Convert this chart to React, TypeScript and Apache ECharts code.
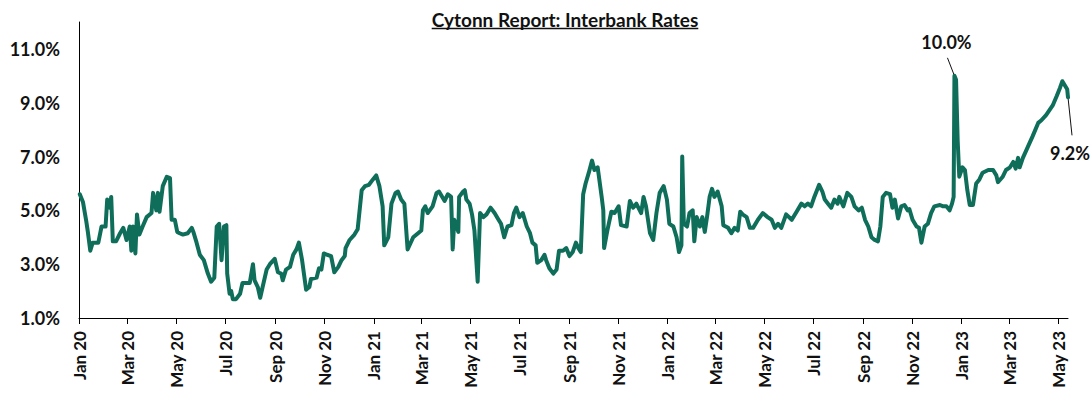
import React, { useEffect, useRef } from 'react';
import * as echarts from 'echarts';

const TITLE = 'Cytonn Report: Interbank Rates';
const AXIS_START = '2020-01-01';
const AXIS_END = '2023-05-13';
const MONTHS = ['Jan', 'Feb', 'Mar', 'Apr', 'May', 'Jun', 'Jul', 'Aug', 'Sep', 'Oct', 'Nov', 'Dec'];
const LINE_COLOR = '#0f6e5a';

const sampleDates = [
  '2020-01-02', '2020-01-06', '2020-01-10', '2020-01-12', '2020-01-15', '2020-01-18', '2020-01-25', '2020-01-29',
  '2020-02-03', '2020-02-05', '2020-02-08', '2020-02-10', '2020-02-12', '2020-02-16', '2020-02-21', '2020-02-25',
  '2020-02-29', '2020-03-04', '2020-03-06', '2020-03-08', '2020-03-11', '2020-03-13', '2020-03-16', '2020-03-20',
  '2020-03-25', '2020-03-31', '2020-04-02', '2020-04-06', '2020-04-08', '2020-04-10', '2020-04-14', '2020-04-19',
  '2020-04-23', '2020-04-25', '2020-04-29', '2020-05-02', '2020-05-05', '2020-05-09', '2020-05-15', '2020-05-20',
  '2020-05-22', '2020-05-26', '2020-05-30', '2020-06-04', '2020-06-09', '2020-06-13', '2020-06-17', '2020-06-20',
  '2020-06-23', '2020-06-26', '2020-06-29', '2020-07-02', '2020-07-03', '2020-07-06', '2020-07-08', '2020-07-10',
  '2020-07-14', '2020-07-19', '2020-07-22', '2020-07-27', '2020-07-31', '2020-08-04', '2020-08-06', '2020-08-10',
  '2020-08-13', '2020-08-16', '2020-08-21', '2020-08-25', '2020-08-31', '2020-09-04', '2020-09-08', '2020-09-10',
  '2020-09-14', '2020-09-19', '2020-09-23', '2020-09-27', '2020-09-30', '2020-10-04', '2020-10-09', '2020-10-13',
  '2020-10-15', '2020-10-22', '2020-10-25', '2020-10-28', '2020-10-31', '2020-11-04', '2020-11-09', '2020-11-13',
  '2020-11-18', '2020-11-22', '2020-11-26', '2020-11-27', '2020-12-02', '2020-12-08', '2020-12-12', '2020-12-17',
  '2020-12-21', '2020-12-26', '2020-12-31', '2021-01-04', '2021-01-08', '2021-01-12', '2021-01-14', '2021-01-19',
  '2021-01-23', '2021-01-28', '2021-01-31', '2021-02-04', '2021-02-08', '2021-02-12', '2021-02-19', '2021-02-25',
  '2021-03-01', '2021-03-03', '2021-03-06', '2021-03-09', '2021-03-15', '2021-03-20', '2021-03-23', '2021-03-28',
  '2021-03-30', '2021-04-03', '2021-04-07', '2021-04-09', '2021-04-11', '2021-04-16', '2021-04-17', '2021-04-22',
  '2021-04-24', '2021-04-26', '2021-04-30', '2021-05-03', '2021-05-06', '2021-05-10', '2021-05-13', '2021-05-17',
  '2021-05-21', '2021-05-26', '2021-05-31', '2021-06-04', '2021-06-08', '2021-06-12', '2021-06-16', '2021-06-21',
  '2021-06-24', '2021-06-27', '2021-07-01', '2021-07-05', '2021-07-10', '2021-07-14', '2021-07-17', '2021-07-21',
  '2021-07-23', '2021-07-28', '2021-08-01', '2021-08-03', '2021-08-07', '2021-08-12', '2021-08-16', '2021-08-19',
  '2021-08-24', '2021-08-28', '2021-09-01', '2021-09-05', '2021-09-09', '2021-09-12', '2021-09-15', '2021-09-18',
  '2021-09-21', '2021-09-25', '2021-09-29', '2021-10-02', '2021-10-06', '2021-10-11', '2021-10-13', '2021-10-14',
  '2021-10-18', '2021-10-23', '2021-10-27', '2021-11-01', '2021-11-04', '2021-11-11', '2021-11-15', '2021-11-19',
  '2021-11-23', '2021-11-29', '2021-12-02', '2021-12-05', '2021-12-10', '2021-12-14', '2021-12-18', '2021-12-22',
  '2021-12-27', '2021-12-31', '2022-01-03', '2022-01-08', '2022-01-12', '2022-01-15', '2022-01-18', '2022-01-19',
  '2022-01-21', '2022-01-25', '2022-01-28', '2022-02-01', '2022-02-03', '2022-02-06', '2022-02-10', '2022-02-13',
  '2022-02-16', '2022-02-19', '2022-02-22', '2022-02-25', '2022-02-28', '2022-03-04', '2022-03-09', '2022-03-11',
  '2022-03-17', '2022-03-21', '2022-03-25', '2022-03-29', '2022-04-01', '2022-04-04', '2022-04-09', '2022-04-13',
  '2022-04-17', '2022-04-23', '2022-04-29', '2022-05-05', '2022-05-10', '2022-05-14', '2022-05-18', '2022-05-22',
  '2022-05-28', '2022-06-04', '2022-06-10', '2022-06-16', '2022-06-20', '2022-06-24', '2022-06-28', '2022-07-02',
  '2022-07-08', '2022-07-12', '2022-07-15', '2022-07-19', '2022-07-23', '2022-07-27', '2022-07-31', '2022-08-02',
  '2022-08-07', '2022-08-12', '2022-08-17', '2022-08-21', '2022-08-26', '2022-08-30', '2022-09-03', '2022-09-07',
  '2022-09-11', '2022-09-15', '2022-09-19', '2022-09-22', '2022-09-25', '2022-09-29', '2022-10-04', '2022-10-07',
  '2022-10-10', '2022-10-14', '2022-10-18', '2022-10-22', '2022-10-26', '2022-10-28', '2022-11-01', '2022-11-06',
  '2022-11-09', '2022-11-12', '2022-11-16', '2022-11-20', '2022-11-24', '2022-11-28', '2022-12-05', '2022-12-09',
  '2022-12-13', '2022-12-17', '2022-12-20', '2022-12-22', '2022-12-23', '2022-12-25', '2022-12-27', '2022-12-29',
  '2023-01-02', '2023-01-05', '2023-01-08', '2023-01-11', '2023-01-15', '2023-01-19', '2023-01-23', '2023-01-27',
  '2023-02-03', '2023-02-09', '2023-02-13', '2023-02-15', '2023-02-21', '2023-02-25', '2023-03-02', '2023-03-06',
  '2023-03-09', '2023-03-12', '2023-03-14', '2023-03-18', '2023-03-24', '2023-03-30', '2023-04-06', '2023-04-10',
  '2023-04-16', '2023-04-24', '2023-04-29', '2023-05-03', '2023-05-06', '2023-05-09', '2023-05-12', '2023-05-13',
];

const rates = [
  5.6, 5.3, 4.6, 4.2, 3.5, 3.8, 3.8, 4.4,
  4.4, 5.4, 5.1, 5.5, 3.85, 3.85, 4.15, 4.35,
  3.9, 4.4, 3.5, 4.4, 3.4, 4.85, 4.1, 4.4,
  4.75, 4.9, 5.65, 5.0, 5.65, 4.95, 5.9, 6.25,
  6.2, 4.65, 4.65, 4.2, 4.15, 4.1, 4.15, 4.35,
  4.2, 3.8, 3.35, 3.15, 2.65, 2.35, 2.5, 4.4,
  4.5, 3.15, 4.4, 4.45, 2.65, 1.9, 2.0, 1.7,
  1.7, 1.9, 2.3, 2.3, 2.3, 3.0, 2.4, 2.15,
  1.75, 2.15, 2.8, 3.0, 3.2, 2.7, 2.65, 2.4,
  2.8, 2.9, 3.35, 3.55, 3.8, 3.15, 2.05, 2.15,
  2.45, 2.5, 2.85, 2.8, 3.4, 3.35, 3.3, 2.7,
  2.9, 3.15, 3.3, 3.6, 3.9, 4.1, 4.3, 5.75,
  5.9, 5.95, 6.15, 6.3, 5.9, 5.15, 3.7, 4.0,
  5.25, 5.65, 5.7, 5.4, 5.25, 3.55, 4.0, 4.15,
  4.25, 5.0, 5.15, 4.9, 5.15, 5.65, 5.7, 5.45,
  5.35, 5.6, 5.5, 3.55, 4.65, 4.2, 5.5, 5.7,
  5.75, 5.4, 5.25, 4.85, 4.25, 2.35, 4.9, 4.75,
  4.85, 5.1, 4.9, 4.7, 4.5, 4.0, 4.4, 4.45,
  4.9, 5.1, 4.75, 4.9, 4.4, 4.15, 3.8, 3.7,
  3.05, 3.15, 3.35, 3.15, 2.85, 2.65, 2.8, 3.5,
  3.5, 3.6, 3.3, 3.45, 3.8, 3.6, 3.45, 5.6,
  6.0, 6.4, 6.85, 6.5, 6.6, 5.5, 5.0, 3.6,
  4.25, 4.95, 4.9, 5.15, 4.45, 4.4, 5.35, 5.1,
  5.25, 4.9, 5.5, 5.15, 4.15, 3.9, 4.9, 5.65,
  5.9, 5.4, 4.5, 4.4, 4.0, 3.45, 3.7, 7.0,
  4.5, 4.4, 4.9, 5.0, 3.85, 4.75, 4.4, 4.75,
  4.2, 4.8, 5.5, 5.8, 5.5, 5.7, 5.15, 4.45,
  4.35, 4.15, 4.35, 4.25, 4.95, 4.85, 4.75, 4.35,
  4.35, 4.65, 4.9, 4.75, 4.65, 4.35, 4.5, 4.35,
  4.85, 4.65, 4.95, 5.25, 5.15, 5.25, 5.15, 5.5,
  5.95, 5.7, 5.4, 5.25, 5.1, 5.4, 5.25, 5.5,
  5.15, 5.65, 5.5, 5.15, 5.0, 5.1, 4.65, 4.4,
  4.0, 3.9, 3.85, 4.4, 5.5, 5.65, 5.6, 5.1,
  5.4, 4.7, 5.15, 5.2, 5.0, 5.05, 4.65, 4.4,
  4.35, 3.8, 4.4, 4.5, 4.9, 5.15, 5.2, 5.15,
  5.15, 5.0, 5.25, 5.5, 10.0, 9.85, 7.6, 6.25,
  6.6, 6.5, 5.75, 5.2, 5.2, 6.0, 6.15, 6.4,
  6.5, 6.5, 6.3, 6.05, 6.25, 6.5, 6.6, 6.8,
  6.55, 6.95, 6.6, 6.95, 7.35, 7.75, 8.25, 8.35,
  8.55, 8.9, 9.25, 9.55, 9.8, 9.65, 9.5, 9.2,
];

const annotations = [
  { date: '2022-12-23', text: '10.0%', dx: -8, dy: -34, lineDx: -7, lineDy: -18 },
  { date: '2023-05-13', text: '9.2%', dx: 2, dy: 56, lineDx: 4, lineDy: 38 },
];

function buildDays(start: string, end: string): string[] {
  const out: string[] = [];
  const d = new Date(start + 'T00:00:00Z');
  const e = new Date(end + 'T00:00:00Z');
  while (d.getTime() <= e.getTime()) {
    out.push(d.toISOString().slice(0, 10));
    d.setUTCDate(d.getUTCDate() + 1);
  }
  return out;
}

const FONT = 'Lato, "Open Sans", sans-serif';
const TEXT_COLOR = '#111';

export default function App() {
  const ref = useRef<HTMLDivElement>(null);
  useEffect(() => {
    document.body.style.margin = '0';
    if (!ref.current) return;
    const chart = echarts.init(ref.current, null, { renderer: 'svg' });
    const days = buildDays(AXIS_START, AXIS_END);
    const isLabelDay = (_i: number, v: string) => {
      const m = parseInt(v.slice(5, 7), 10);
      return v.slice(8, 10) === '01' && m % 2 === 1;
    };
    const option: any = {
      animation: false,
      backgroundColor: '#ffffff',
      grid: { left: 79, right: 24, top: 22, bottom: 76, containLabel: false },
      xAxis: {
        type: 'category',
        data: days,
        boundaryGap: false,
        axisLine: { show: true, lineStyle: { color: '#000', width: 1 } },
        axisTick: { show: true, interval: isLabelDay, length: 6, lineStyle: { color: '#000' } },
        axisLabel: {
          interval: isLabelDay,
          rotate: 90,
          margin: 13,
          fontFamily: FONT,
          fontWeight: 'bold',
          fontSize: 17,
          color: TEXT_COLOR,
          formatter: (v: string) => MONTHS[parseInt(v.slice(5, 7), 10) - 1] + ' ' + v.slice(2, 4),
        },
        splitLine: { show: false },
      },
      yAxis: {
        type: 'value',
        min: 1,
        max: 12,
        interval: 1,
        axisLine: { show: true, lineStyle: { color: '#000', width: 1 } },
        axisTick: { show: false },
        splitLine: { show: false },
        axisLabel: {
          margin: 19,
          fontFamily: FONT,
          fontWeight: 'bold',
          fontSize: 18,
          color: TEXT_COLOR,
          formatter: (v: number) => (Math.round(v) % 2 === 1 ? v.toFixed(1) + '%' : ''),
        },
      },
      series: [
        {
          type: 'line',
          data: sampleDates.map((d, i) => [d, rates[i]]),
          showSymbol: false,
          symbol: 'none',
          lineStyle: { color: LINE_COLOR, width: 4, join: 'round', cap: 'round' },
          itemStyle: { color: LINE_COLOR },
        },
      ],
    };
    chart.setOption(option);

    const titleFont = `bold 19px ${FONT}`;
    const graphics: any[] = [];
    let titleWidth = 266;
    try {
      const t = new (echarts.graphic as any).Text({ style: { text: TITLE, font: titleFont } });
      titleWidth = t.getBoundingRect().width || 266;
    } catch (e) {
      titleWidth = 266;
    }
    graphics.push({
      type: 'text',
      x: 565,
      y: 19,
      style: {
        text: TITLE,
        font: titleFont,
        fill: TEXT_COLOR,
        textAlign: 'center',
        textVerticalAlign: 'middle',
      },
    });
    graphics.push({
      type: 'line',
      shape: { x1: 565 - titleWidth / 2, y1: 28.5, x2: 565 + titleWidth / 2, y2: 28.5 },
      style: { stroke: TEXT_COLOR, lineWidth: 1.3 },
    });
    annotations.forEach((a) => {
      const idx = sampleDates.indexOf(a.date);
      const val = rates[idx];
      const dayIdx = days.indexOf(a.date);
      const p = chart.convertToPixel({ gridIndex: 0 }, [dayIdx, val]) as number[];
      graphics.push({
        type: 'line',
        shape: { x1: p[0], y1: p[1], x2: p[0] + a.lineDx, y2: p[1] + a.lineDy },
        style: { stroke: TEXT_COLOR, lineWidth: 1 },
      });
      graphics.push({
        type: 'text',
        x: p[0] + a.dx,
        y: p[1] + a.dy,
        style: {
          text: a.text,
          font: `bold 18px ${FONT}`,
          fill: TEXT_COLOR,
          textAlign: 'center',
          textVerticalAlign: 'middle',
        },
      });
    });
    chart.setOption({ graphic: graphics });
    return () => chart.dispose();
  }, []);
  return <div ref={ref} style={{ width: 1092, height: 394 }} />;
}
